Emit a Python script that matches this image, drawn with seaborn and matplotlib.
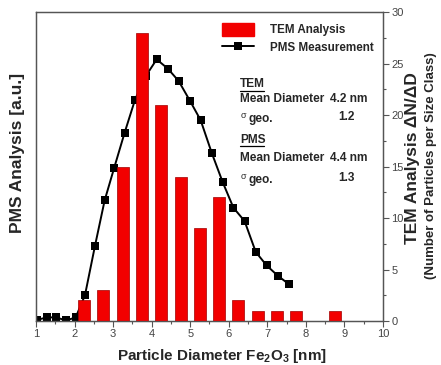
import matplotlib
matplotlib.use("Agg")
import matplotlib.pyplot as plt
import seaborn as sns
from matplotlib.lines import Line2D
from matplotlib.patches import Patch
from matplotlib.ticker import MultipleLocator, NullLocator

# TEM histogram (number of particles per size class)
tem_diam = [2.25, 2.75, 3.25, 3.75, 4.25, 4.75, 5.25, 5.75, 6.25, 6.75, 7.25, 7.75, 8.75]
tem_count = [2, 3, 15, 28, 21, 14, 9, 12, 2, 1, 1, 1, 1]

# PMS measurement (arbitrary units, read on the right-hand scale)
pms_diam = [1.02, 1.28, 1.52, 1.78, 2.03, 2.27, 2.53, 2.78, 3.03, 3.30, 3.57, 3.85,
            4.13, 4.42, 4.70, 4.99, 5.27, 5.56, 5.84, 6.12, 6.41, 6.70, 6.98, 7.27, 7.55]
pms_value = [0.1, 0.35, 0.35, 0.05, 0.35, 2.5, 7.3, 11.7, 14.9, 18.3, 21.5, 23.8,
             25.4, 24.5, 23.3, 21.4, 19.5, 16.3, 13.5, 11.0, 9.7, 6.7, 5.4, 4.4, 3.6]

x_ticks = list(range(1, 11))
y_ticks = [0, 5, 10, 15, 20, 25, 30]

sns.set_theme(style="ticks")
plt.rcParams["font.family"] = ["Liberation Sans", "DejaVu Sans"]
plt.rcParams.update({
    "mathtext.fontset": "custom",
    "mathtext.rm": "Liberation Sans:bold",
    "mathtext.default": "rm",
    "axes.edgecolor": "#555555",
    "xtick.color": "#555555",
    "ytick.color": "#555555",
})

fig = plt.figure(figsize=(4.41, 3.65), dpi=100)
ax = fig.add_axes([36 / 441, 44 / 365, 347 / 441, 309 / 365])
ax2 = ax.twinx()

sns.lineplot(x=pms_diam, y=pms_value, ax=ax, color="black", linewidth=1.4,
             marker="s", markersize=6, markeredgewidth=0, sort=False, estimator=None)
sns.barplot(x=tem_diam, y=tem_count, ax=ax2, native_scale=True, width=0.62,
            color="#f20000", saturation=1, edgecolor="#a00000", linewidth=0.5)

for a in (ax, ax2):
    a.set_xlim(1, 10)
    a.set_ylim(0, 30)
    for s in a.spines.values():
        s.set_linewidth(0.9)

ax.yaxis.set_major_locator(NullLocator())
ax.set_xticks(x_ticks)
ax.xaxis.set_minor_locator(MultipleLocator(0.5))
ax.tick_params(axis="x", which="major", direction="out", length=4, width=0.8,
               labelsize=8, pad=2, labelcolor="#444444")
ax.tick_params(axis="x", which="minor", direction="out", length=2.5, width=0.8)

ax2.set_yticks(y_ticks)
ax2.yaxis.set_minor_locator(MultipleLocator(2.5))
ax2.tick_params(axis="y", which="major", direction="out", length=4, width=0.8,
                labelsize=8, pad=2, labelcolor="#444444")
ax2.tick_params(axis="y", which="minor", direction="out", length=2.5, width=0.8)
ax2.set_ylabel("")
ax.set_ylabel("")

ax.set_xlabel("Particle Diameter Fe$_2$O$_3$ [nm]", fontsize=11, fontweight="bold")
ax.xaxis.set_label_coords((222 - 36) / 347, -0.085)
fig.text(18 / 441, 1 - 153 / 365, "PMS Analysis [a.u.]", rotation=90, fontsize=12.5,
         fontweight="bold", ha="center", va="center")
fig.text(412 / 441, 1 - 158 / 365, "TEM Analysis \u0394N/\u0394D", rotation=90,
         fontsize=12.5, fontweight="bold", ha="center", va="center")
fig.text(431 / 441, 1 - 166 / 365, "(Number of Particles per Size Class)", rotation=90,
         fontsize=9.5, fontweight="bold", ha="center", va="center")

handles = [
    Patch(facecolor="#f20000", edgecolor="#f20000", label="TEM Analysis"),
    Line2D([], [], color="black", marker="s", markersize=6, markeredgewidth=0,
           linewidth=1.4, label="PMS Measurement"),
]
ax2.legend(handles=handles, loc="upper left", bbox_to_anchor=(0.51, 0.995),
           frameon=False, prop={"weight": "bold", "size": 8.4},
           handlelength=2.7, handleheight=1.3, handletextpad=1.4,
           labelspacing=0.4, borderaxespad=0.4)

# summary statistics block
txt = dict(fontsize=8.6, fontweight="bold", va="center", transform=ax2.transData)
sig = dict(fontsize=6.5, va="center", transform=ax2.transData)
ax2.text(6.3, 23.0, "TEM", **txt)
ax2.text(6.3, 21.55, "Mean Diameter", **txt)
ax2.text(9.6, 21.55, "4.2 nm", ha="right", **txt)
ax2.text(6.3, 19.95, "\u03c3", **sig)
ax2.text(6.5, 19.6, "geo.", **txt)
ax2.text(9.05, 19.8, "1.2", ha="center", **txt)
ax2.text(6.3, 17.6, "PMS", **txt)
ax2.text(6.3, 15.8, "Mean Diameter", **txt)
ax2.text(9.6, 15.8, "4.4 nm", ha="right", **txt)
ax2.text(6.3, 14.05, "\u03c3", **sig)
ax2.text(6.5, 13.7, "geo.", **txt)
ax2.text(9.05, 13.9, "1.3", ha="center", **txt)
# underline the section headings
for y, x1 in ((22.35, 6.92), (16.95, 6.92)):
    ax2.plot([6.3, x1], [y, y], color="black", linewidth=0.9)

fig.savefig("out.png", dpi=100)
